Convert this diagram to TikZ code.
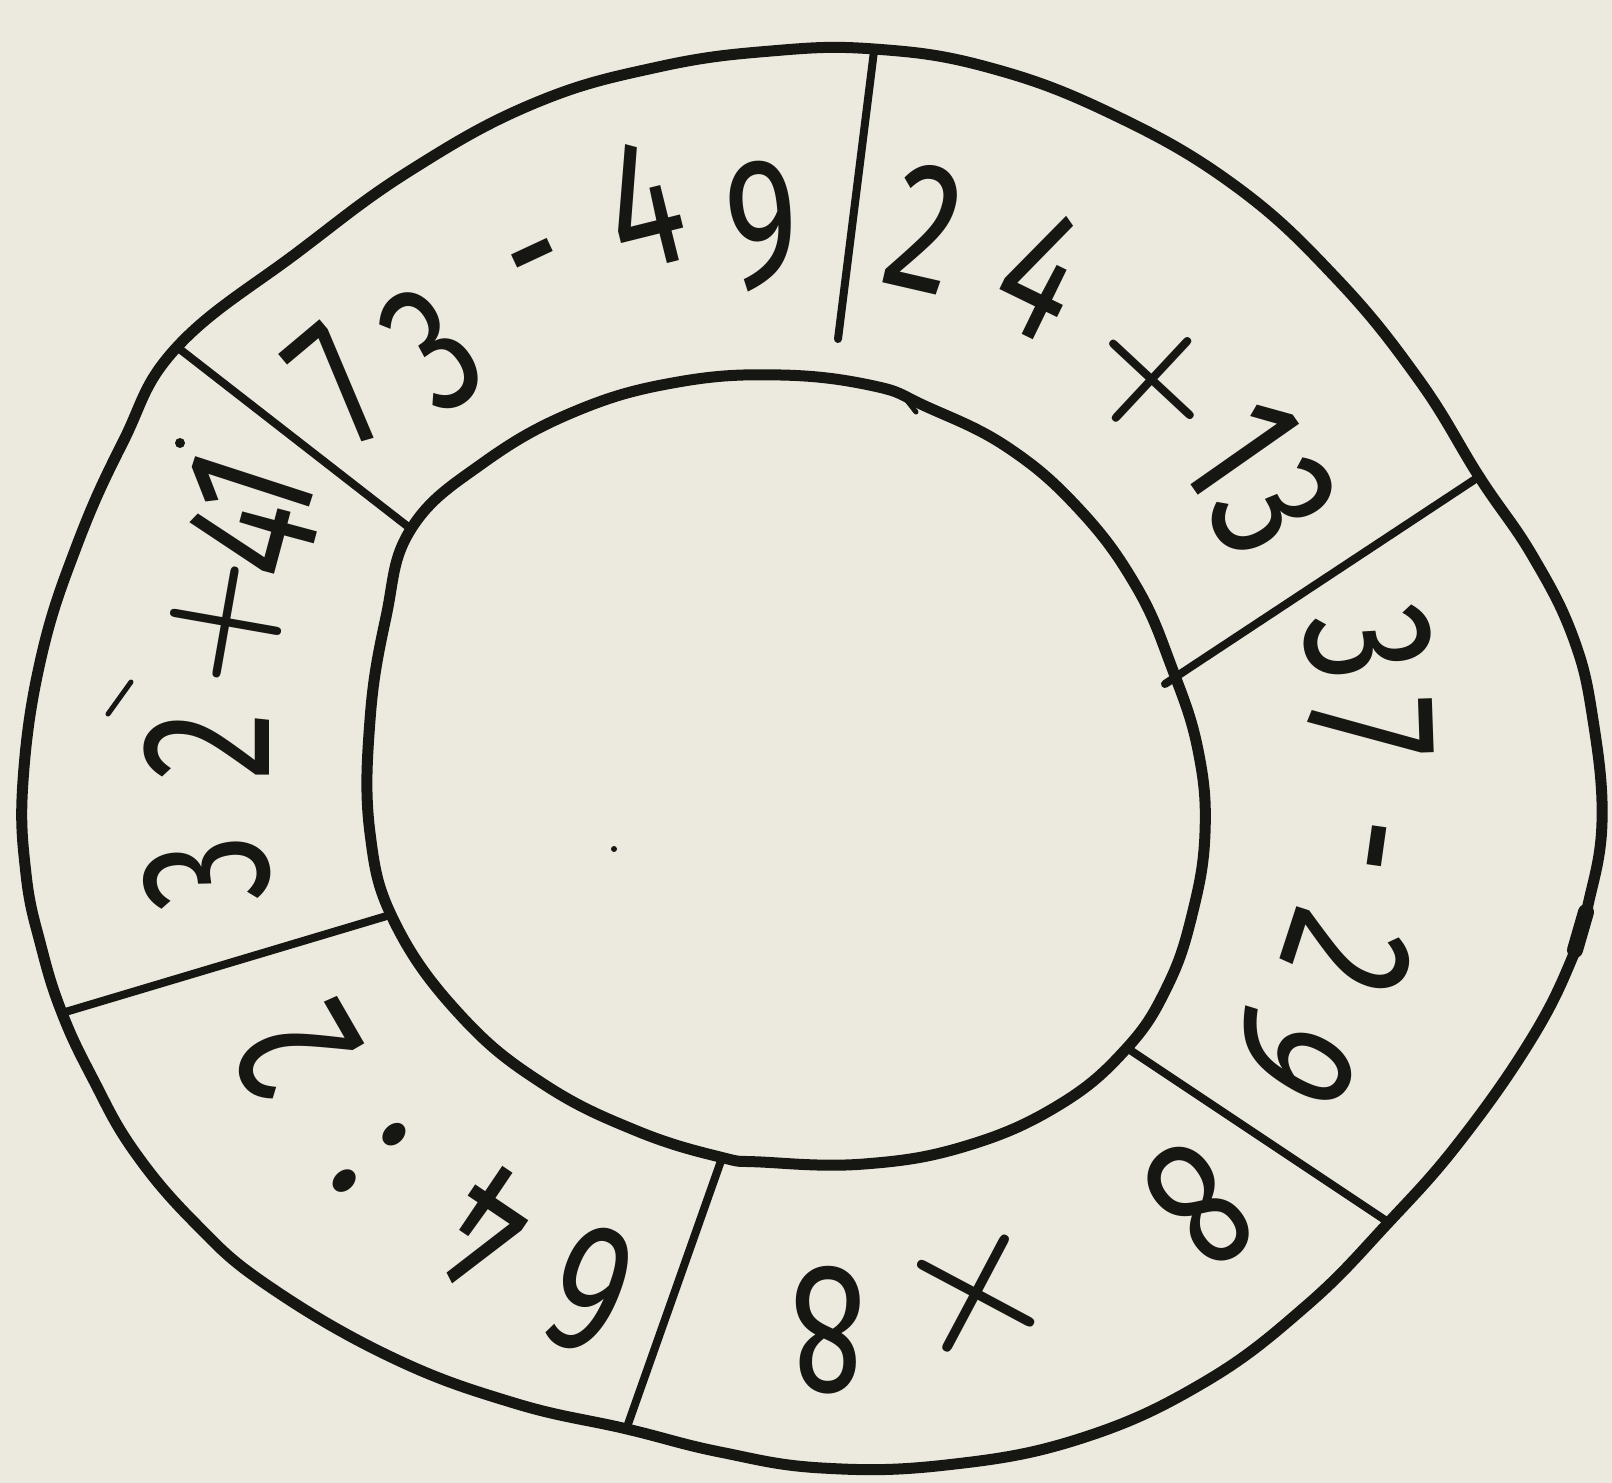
\documentclass[tikz,border=0pt]{standalone}
\usepackage{fontspec}
\setmainfont{Fira Sans}
\newfontfamily\opfont{Latin Modern Roman}
\definecolor{paper}{RGB}{236,233,222}
\definecolor{ink}{RGB}{22,22,18}
\tikzset{
  ring/.style={draw=ink, line width=11pt, line join=round},
  divider/.style={draw=ink, line width=8pt, line cap=round},
  glyph/.style={text=ink, inner sep=0pt, font=\fontsize{185}{185}\selectfont},
  g/.style={glyph, rotate=#1, xscale=0.75},
  op/.style={text=ink, inner sep=0pt, font=\opfont\bfseries\fontsize{150}{150}\selectfont, rotate=#1},
  opx/.style={text=ink, inner sep=0pt, font=\opfont\bfseries\fontsize{175}{175}\selectfont, rotate=#1},
  speck/.style={fill=ink, draw=none},
}
\begin{document}
\begin{tikzpicture}[x=1pt,y=-1pt]
\fill[paper] (0,0) rectangle (1612,1483);
\useasboundingbox (0,0) rectangle (1612,1483);

% outer ring
\draw[ring] plot[smooth cycle, tension=0.7] coordinates {
 (874,49) (987,67) (1110,113) (1234,185) (1336,278) (1419,380) (1480,478)
 (1532,555) (1573,637) (1593,720) (1602,822) (1588,905) (1573,956)
 (1532,1038) (1460,1141) (1388,1223) (1306,1306) (1203,1383) (1079,1439)
 (946,1465) (822,1468) (720,1452) (627,1429) (514,1403) (391,1357)
 (267,1285) (195,1223) (134,1151) (93,1079) (62,1013) (41,946) (26,874)
 (23,781) (41,658) (77,545) (123,442) (177,347) (298,252) (411,170)
 (535,103) (658,67) (771,51)};
\draw[ink, line width=16pt, line cap=round] (1586,912) -- (1575,950);

% inner ring
\draw[ring] plot[smooth cycle, tension=0.7] coordinates {
 (411,529) (483,463) (576,411) (678,382) (781,375) (874,386) (925,406)
 (1007,447) (1079,509) (1136,586) (1172,668) (1198,750) (1205,833)
 (1192,915) (1167,987) (1126,1049) (1059,1105) (966,1146) (864,1164)
 (761,1162) (720,1157) (637,1131) (545,1085) (463,1018) (396,925)
 (370,833) (370,720) (386,617)};

% divider end points
\coordinate (d1o) at (874,51);   \coordinate (d1i) at (838,339);
\coordinate (d2o) at (1480,476); \coordinate (d2i) at (1165,684);
\coordinate (d3i) at (1127,1048);\coordinate (d3o) at (1388,1222);
\coordinate (d4i) at (722,1158); \coordinate (d4o) at (627,1427);
\coordinate (d5i) at (390,915);  \coordinate (d5o) at (62,1013);
\coordinate (d6o) at (177,347);  \coordinate (d6i) at (411,529);
\draw[divider] (d1o) -- (d1i);
\draw[divider] (d2o) -- (d2i);
\draw[divider] (d3i) -- (d3o);
\draw[divider] (d4i) -- (d4o);
\draw[divider] (d5i) -- (d5o);
\draw[divider] (d6o) -- (d6i);

% 73 - 49
\node[g=40] (a1) at (340,385) {7};
\node[g=35] (a2) at (432,348) {3};
\node[g=25] (a3) at (543,276) {-};
\node[g=14] (a4) at (644,205) {4};
\node[g=5]  (a5) at (762,226) {9};

% 24 + 13
\node[g=-13] (b1) at (925,228) {2};
\node[g=-26] (b2) at (1042,274) {4};
\node[op=-43] (b3) at (1152,380) {+};
\node[g=-55] (b4) at (1240,448) {1};
\node[g=-61] (b5) at (1274,508) {3};

% 37 - 29
\node[g=-80]  (c1) at (1368,643) {3};
\node[g=-88]  (c2) at (1370,728) {7};
\node[g=-98]  (c3) at (1352,843) {-};
\node[g=-108] (c4) at (1348,954) {2};
\node[g=-120] (c5) at (1292,1055) {9};

% 8 x 8
\node[g=-142] (e1) at (1199,1205) {8};
\node[opx=-163] (e2) at (976,1294) {×};
\node[g=-180] (e3) at (828,1330) {8};

% 64 : 2
\node[g=158] (f1) at (590,1290) {6};
\node[g=146] (f2) at (485,1230) {4};
\node[g=133] (f3) at (369,1158) {:};
\node[g=120] (f4) at (296,1050) {2};

% 32 + 41
\node[g=98] (h1) at (207,873) {3};
\node[g=90] (h2) at (207,746) {2};
\node[op=80] (h3) at (226,622) {+};
\node[g=75] (h4) at (251,536) {4};
\node[g=72] (h5) at (250,490) {1};

% stray pen marks
\fill[speck] (180,443) circle (5);
\fill[speck] (614,849) circle (3);
\draw[ink, line width=5pt, line cap=round] (108,714) -- (131,682);
\draw[ink, line width=5pt, line cap=round] (905,398) -- (916,412);
\end{tikzpicture}
\end{document}
